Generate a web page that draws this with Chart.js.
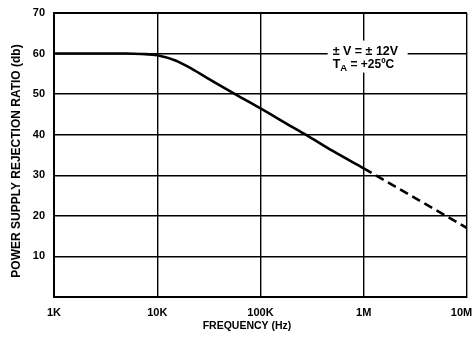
<!DOCTYPE html>
<html><head><meta charset="utf-8">
<script src="https://cdn.jsdelivr.net/npm/chart.js@4"></script>
<style>html,body{margin:0;padding:0;background:#fff;}#wrap{width:474px;height:341px;}</style>
</head><body><div id="wrap"><canvas id="c" width="474" height="341"></canvas></div>
<script>
const freqSolid = [1e3, 3e3, 5e3, 7e3, 1e4, 1.5e4, 2e4, 3e4, 5e4, 7e4, 1e5, 2e5, 3e5, 5e5, 1e6];
const psrrSolid = [60, 60, 60, 59.9, 59.6, 58.3, 56.7, 54.1, 50.8, 48.7, 46.5, 42.0, 39.4, 36.0, 31.7];
const freqDashed = [1e6, 1e7];
const psrrDashed = [31.7, 17];
const xTickValues = [1e3, 1e4, 1e5, 1e6, 1e7];
const xTickLabels = ['1K', '10K', '100K', '1M', '10M\u2003'];
const yTickLabels = ['', '10', '20', '30', '40', '50', '60', '70'];
const xTitle = 'FREQUENCY (Hz)';
const yTitle = 'POWER SUPPLY REJECTION RATIO (db)';
const noteLine1 = '\u00B1 V = \u00B1 12V';
const noteLine2a = 'T';
const noteLine2sub = 'A';
const noteLine2b = ' = +25\u00BAC';

const FONT = '"Liberation Sans", Arial, sans-serif';

const titlesPlugin = {
  id: 'titles',
  afterDraw(chart) {
    const ctx = chart.ctx;
    ctx.save();
    ctx.fillStyle = '#000';
    ctx.font = 'bold 10.5px ' + FONT;
    ctx.textAlign = 'center';
    ctx.textBaseline = 'middle';
    ctx.fillText(xTitle, 247, 326);
    ctx.translate(17, 161);
    ctx.rotate(-Math.PI / 2);
    ctx.font = 'bold 12px ' + FONT;
    ctx.fillText(yTitle, 0, 0);
    ctx.restore();
  }
};

const notePlugin = {
  id: 'note',
  afterDatasetsDraw(chart) {
    const ctx = chart.ctx;
    const x = chart.scales.x.getPixelForValue(5e5);
    const y = chart.scales.y.getPixelForValue(60);
    ctx.save();
    ctx.fillStyle = '#fff';
    ctx.fillRect(x - 5, y - 13, 80, 32);
    ctx.fillStyle = '#000';
    ctx.textAlign = 'left';
    ctx.textBaseline = 'alphabetic';
    ctx.font = 'bold 12.5px ' + FONT;
    ctx.fillText(noteLine1, x, y + 1);
    let cx = x;
    ctx.fillText(noteLine2a, cx, y + 14);
    cx += ctx.measureText(noteLine2a).width;
    ctx.font = 'bold 9.5px ' + FONT;
    ctx.fillText(noteLine2sub, cx, y + 17);
    cx += ctx.measureText(noteLine2sub).width;
    ctx.font = 'bold 12px ' + FONT;
    ctx.fillText(noteLine2b, cx, y + 14);
    ctx.restore();
  }
};

new Chart(document.getElementById('c'), {
  type: 'line',
  data: {
    datasets: [
      { data: freqSolid.map((f, i) => ({ x: f, y: psrrSolid[i] })), borderColor: '#000', borderWidth: 2.6, pointRadius: 0, cubicInterpolationMode: 'monotone', fill: false },
      { data: freqDashed.map((f, i) => ({ x: f, y: psrrDashed[i] })), borderColor: '#000', borderWidth: 2.6, borderDash: [9, 5], pointRadius: 0, fill: false }
    ]
  },
  options: {
    responsive: false,
    animation: false,
    devicePixelRatio: 1,
    layout: { padding: { top: 13, right: 7, left: 0, bottom: 0 } },
    plugins: { legend: { display: false }, tooltip: { enabled: false } },
    scales: {
      x: {
        type: 'logarithmic',
        min: 1e3, max: 1e7,
        afterBuildTicks(s) { s.ticks = xTickValues.map(v => ({ value: v })); },
        afterFit(s) { s.height = 44; s.paddingLeft = 0; s.paddingRight = 0; },
        ticks: {
          autoSkip: false, maxRotation: 0, padding: 9, color: '#000',
          font: { family: FONT, size: 11, weight: 'bold' },
          callback(v) { const i = xTickValues.indexOf(v); return i >= 0 ? xTickLabels[i] : ''; }
        },
        grid: { color: '#000', lineWidth: 1.4, drawTicks: false },
        border: { color: '#000', width: 2 }
      },
      y: {
        min: 0, max: 70,
        afterFit(s) { s.width = 54; s.paddingTop = 0; s.paddingBottom = 0; },
        ticks: {
          stepSize: 10, padding: 9, color: '#000',
          font: { family: FONT, size: 11, weight: 'bold' },
          callback(v) { return yTickLabels[Math.round(v / 10)]; }
        },
        grid: { color: '#000', lineWidth: (c) => (c.index === 7 ? 2 : 1.4), drawTicks: false },
        border: { color: '#000', width: 2 }
      }
    }
  },
  plugins: [titlesPlugin, notePlugin]
});
</script>
</body></html>
